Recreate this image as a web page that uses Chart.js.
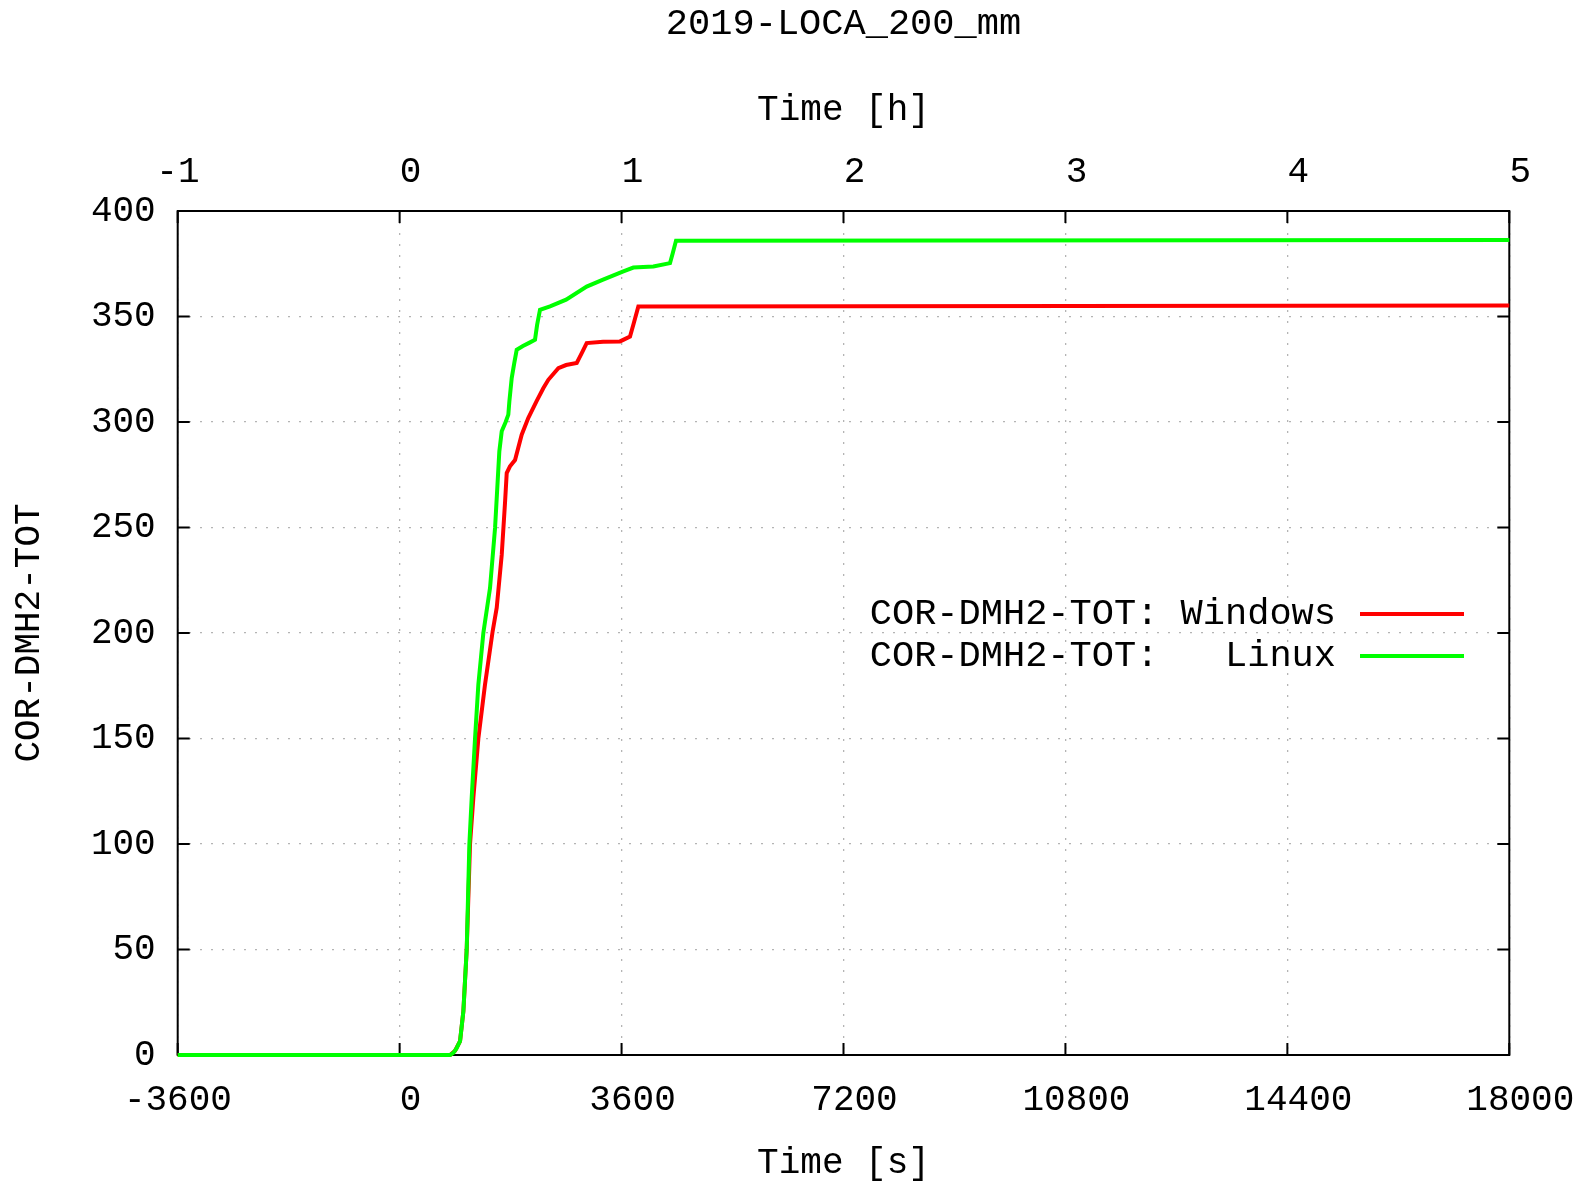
<!DOCTYPE html>
<html>
<head>
<meta charset="utf-8">
<title>2019-LOCA_200_mm</title>
<script src="https://cdn.jsdelivr.net/npm/chart.js@4.4.1/dist/chart.umd.min.js"></script>
<style>
  html, body { margin: 0; padding: 0; background: #fff; }
</style>
</head>
<body>
<canvas id="dmh2Chart" width="1583" height="1181"></canvas>
<script>
// time axis [s] and hydrogen mass
const windowsTime = [-3600, 820, 900, 980, 1034, 1088, 1142, 1196, 1277, 1385, 1507, 1575, 1656, 1710, 1737, 1790, 1872, 1980, 2088, 2224, 2330, 2412, 2500, 2575, 2700, 2873, 2960, 3034, 3300, 3575, 3737, 3800, 3872, 18000];
const windowsValue = [0, 0, 2, 6.6, 20.8, 50, 100, 122, 150, 175.6, 200.5, 212, 237, 262, 275.8, 279, 282, 294, 302, 310, 316, 320, 323, 325.5, 327, 328, 333, 337.4, 338, 338.2, 340.5, 347, 354.7, 355.2];

const linuxTime = [-3600, 820, 871, 920, 980, 1034, 1088, 1131, 1169, 1223, 1277, 1358, 1466, 1548, 1617, 1656, 1720, 1763, 1780, 1818, 1860, 1899, 2000, 2100, 2196, 2230, 2277, 2440, 2700, 3034, 3300, 3619, 3791, 4116, 4386, 4430, 4483, 18000];
const linuxValue = [0, 0, 1, 3, 6.6, 20.8, 50, 99.8, 121.9, 150, 175.6, 200, 221.3, 249.8, 286, 295.6, 300, 303.5, 309.8, 320.8, 328, 334.2, 336, 337.5, 339, 346, 353.2, 354.8, 358, 364.2, 367.5, 371.3, 373.2, 373.7, 375.3, 380, 385.9, 386.2];

const secondTicks = [-3600, 0, 3600, 7200, 10800, 14400, 18000];
const hourTicks = [-1, 0, 1, 2, 3, 4, 5];
const valueTicks = [0, 50, 100, 150, 200, 250, 300, 350, 400];

const seriesLabels = ['COR-DMH2-TOT: Windows', 'COR-DMH2-TOT:   Linux'];
const seriesColors = ['#ff0000', '#00ff00'];

const FONT = '"Liberation Mono", "Courier New", monospace';
const toPoints = (xs, ys) => xs.map((x, i) => ({x: x, y: ys[i]}));
// gnuplot puts unsigned labels half a char right of the tick; signed ones stay centred
const tickText = v => (v < 0 ? String(v) + ' ' : String(v));

// gnuplot style box with inward tick marks
const framePlugin = {
  id: 'frame',
  beforeDatasetsDraw(chart) {
    const {ctx, chartArea: a, scales} = chart;
    const len = 12;
    ctx.save();
    ctx.strokeStyle = '#000';
    ctx.lineWidth = 2;
    ctx.beginPath();
    scales.x.ticks.forEach(t => {
      const px = scales.x.getPixelForValue(t.value);
      ctx.moveTo(px, a.bottom);
      ctx.lineTo(px, a.bottom - len);
    });
    scales.x2.ticks.forEach(t => {
      const px = scales.x2.getPixelForValue(t.value);
      ctx.moveTo(px, a.top);
      ctx.lineTo(px, a.top + len);
    });
    scales.y.ticks.forEach(t => {
      const py = scales.y.getPixelForValue(t.value);
      ctx.moveTo(a.left, py);
      ctx.lineTo(a.left + len, py);
      ctx.moveTo(a.right, py);
      ctx.lineTo(a.right - len, py);
    });
    ctx.stroke();
    ctx.strokeRect(a.left, a.top, a.right - a.left, a.bottom - a.top);
    ctx.restore();
  }
};

// key: text right-aligned, sample line after it
const keyPlugin = {
  id: 'key',
  afterDatasetsDraw(chart) {
    const ctx = chart.ctx;
    const textRight = 1336, lineStart = 1360, lineEnd = 1464;
    const rows = [614, 656];
    ctx.save();
    ctx.font = '37px ' + FONT;
    ctx.fillStyle = '#000';
    ctx.textAlign = 'right';
    ctx.textBaseline = 'middle';
    seriesLabels.forEach((label, i) => {
      ctx.fillText(label, textRight, rows[i]);
      ctx.strokeStyle = seriesColors[i];
      ctx.lineWidth = 4;
      ctx.beginPath();
      ctx.moveTo(lineStart, rows[i]);
      ctx.lineTo(lineEnd, rows[i]);
      ctx.stroke();
    });
    ctx.restore();
  }
};

const gridStyle = {
  color: '#b4b4b4',
  lineWidth: 1.3,
  drawTicks: false
};

new Chart(document.getElementById('dmh2Chart'), {
  type: 'line',
  data: {
    datasets: [{
      label: seriesLabels[0],
      data: toPoints(windowsTime, windowsValue),
      borderColor: seriesColors[0],
      borderWidth: 4,
      pointRadius: 0,
      tension: 0,
      clip: false,
      order: 1
    }, {
      label: seriesLabels[1],
      data: toPoints(linuxTime, linuxValue),
      borderColor: seriesColors[1],
      borderWidth: 4,
      pointRadius: 0,
      tension: 0,
      clip: false,
      order: 0
    }]
  },
  options: {
    responsive: false,
    animation: false,
    devicePixelRatio: 1,
    layout: { padding: { left: 0, top: 0, right: 73.7, bottom: 0 } },
    plugins: {
      legend: { display: false },
      tooltip: { enabled: false },
      title: {
        display: true,
        fullSize: false,
        text: '2019-LOCA_200_mm',
        color: '#000',
        font: { family: FONT, size: 37, weight: 'normal', lineHeight: 1.2 },
        padding: { top: 2, bottom: 0 }
      }
    },
    scales: {
      x: {
        type: 'linear',
        position: 'bottom',
        min: secondTicks[0],
        max: secondTicks[secondTicks.length - 1],
        afterBuildTicks: s => { s.ticks = secondTicks.map(v => ({value: v})); },
        afterFit: s => { s.height = 126; s.paddingLeft = 0; s.paddingRight = 0; },
        ticks: {
          autoSkip: false, maxRotation: 0, padding: 23.4, color: '#000',
          labelOffset: 11,
          font: { family: FONT, size: 36 },
          callback: tickText
        },
        grid: gridStyle,
        border: { display: false, dash: [2, 9] },
        title: {
          display: true, text: 'Time [s]', color: '#000',
          font: { family: FONT, size: 36, lineHeight: 1 },
          padding: { top: 0, bottom: 0 }
        }
      },
      x2: {
        type: 'linear',
        axis: 'x',
        position: 'top',
        min: hourTicks[0],
        max: hourTicks[hourTicks.length - 1],
        afterBuildTicks: s => { s.ticks = hourTicks.map(v => ({value: v})); },
        afterFit: s => {
          s.height = 211 - s.chart.titleBlock.height;
          s.paddingLeft = 0; s.paddingRight = 0;
        },
        ticks: {
          autoSkip: false, maxRotation: 0, padding: 17.4, color: '#000',
          labelOffset: 11,
          font: { family: FONT, size: 36 },
          callback: tickText
        },
        grid: { display: false, drawTicks: false },
        border: { display: false },
        title: {
          display: true, text: 'Time [h]', color: '#000',
          font: { family: FONT, size: 36, lineHeight: 1 },
          padding: { top: 45.8, bottom: 0 }
        }
      },
      y: {
        type: 'linear',
        position: 'left',
        min: valueTicks[0],
        max: valueTicks[valueTicks.length - 1],
        afterBuildTicks: s => { s.ticks = valueTicks.map(v => ({value: v})); },
        afterFit: s => { s.width = 177.7; },
        ticks: {
          autoSkip: false, padding: 22, color: '#000',
          font: { family: FONT, size: 36 },
          callback: v => String(v)
        },
        grid: gridStyle,
        border: { display: false, dash: [2, 9] },
        title: {
          display: true, text: 'COR-DMH2-TOT', color: '#000',
          font: { family: FONT, size: 36, lineHeight: 1 },
          padding: { top: 11.3, bottom: 0 }
        }
      }
    }
  },
  plugins: [framePlugin, keyPlugin]
});
</script>
</body>
</html>
